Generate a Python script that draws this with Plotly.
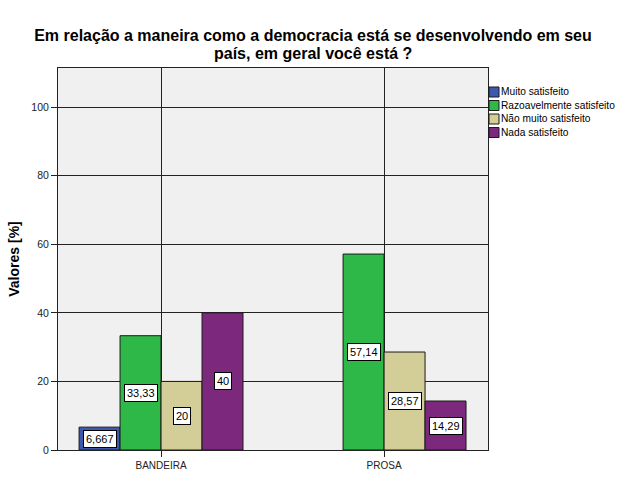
import plotly.graph_objects as go

categories = ["BANDEIRA", "PROSA"]
series_names = ["Muito satisfeito", "Razoavelmente satisfeito", "Não muito satisfeito", "Nada satisfeito"]
muito = [6.667, None]
razoavel = [33.33, 57.14]
nao_muito = [20, 28.57]
nada = [40, 14.29]
label_text = [["6,667", None], ["33,33", "57,14"], ["20", "28,57"], ["40", "14,29"]]
y_ticks = [0, 20, 40, 60, 80, 100]
title_lines = ["Em relação a maneira como a democracia está se desenvolvendo em seu",
               "país, em geral você está ?"]

series_values = [muito, razoavel, nao_muito, nada]
colors = ["#3E58AC", "#2EB848", "#D3CE97", "#7C287D"]

W, H = 626, 501
ML, MR, MT, MB = 58, 138, 68, 51
PW, PH = W - ML - MR, H - MT - MB


def px_x(px):
    return (px - ML) / PW


def px_y(py):
    return (H - MB - py) / PH


fig = go.Figure()
for name, vals, col in zip(series_names, series_values, colors):
    fig.add_trace(go.Bar(
        x=list(range(len(categories))), y=vals, name=name,
        marker=dict(color=col, line=dict(color="#1a1a1a", width=1)),
        hoverinfo="skip", showlegend=False,
    ))

bargap = 0.265
w = (1 - bargap) / 4
for si, (vals, texts) in enumerate(zip(series_values, label_text)):
    off = (si - 1.5) * w
    for ci, (v, t) in enumerate(zip(vals, texts)):
        if v is None or t is None:
            continue
        fig.add_annotation(
            x=ci + off, y=v / 2, xref="x", yref="y", text=t, showarrow=False,
            font=dict(family="Arial, Liberation Sans", size=11, color="#000"),
            bgcolor="white", bordercolor="black", borderwidth=1, borderpad=2,
        )

# manual legend
for i, (name, col) in enumerate(zip(series_names, colors)):
    yc = 92 + i * 13.5
    fig.add_shape(
        type="rect", xref="paper", yref="paper",
        x0=px_x(489), x1=px_x(499), y0=px_y(yc + 5), y1=px_y(yc - 5),
        fillcolor=col, line=dict(color="#1a1a1a", width=1),
    )
    fig.add_annotation(
        x=px_x(499), y=px_y(yc), xref="paper", yref="paper", text=name,
        showarrow=False, xanchor="left", yanchor="middle",
        font=dict(family="Arial, Liberation Sans", size=10.2, color="#000"),
    )

# second title line (tighter line spacing than plotly's default)
fig.add_annotation(
    x=px_x(W / 2), y=px_y(53.5), xref="paper", yref="paper",
    text="<b>" + title_lines[1] + "</b>", showarrow=False,
    xanchor="center", yanchor="middle",
    font=dict(family="Arial, Liberation Sans", size=16, color="#000"),
)

fig.update_layout(
    width=W, height=H,
    paper_bgcolor="white", plot_bgcolor="#F0F0F0",
    margin=dict(l=ML, r=MR, t=MT, b=MB, autoexpand=False),
    barmode="group", bargap=bargap, bargroupgap=0,
    title=dict(
        text="<b>" + title_lines[0] + "</b>",
        x=0.5, xref="container", xanchor="center", y=1 - 35 / H, yref="container", yanchor="middle",
        font=dict(family="Arial, Liberation Sans", size=16, color="#000"),
    ),
    font=dict(family="Arial, Liberation Sans", size=10, color="#222"),
    showlegend=False,
)
fig.update_xaxes(
    tickmode="array", tickvals=list(range(len(categories))), ticktext=categories,
    range=[-0.462, 1.466],
    showgrid=True, gridcolor="#222", gridwidth=1,
    showline=True, linecolor="#222", linewidth=1, mirror=True,
    ticks="outside", ticklen=6, tickcolor="#222",
    tickfont=dict(size=10, color="#222"), zeroline=False,
)
fig.update_yaxes(
    range=[0, 111.4], tickmode="array", tickvals=y_ticks,
    showgrid=True, gridcolor="#222", gridwidth=1,
    showline=True, linecolor="#222", linewidth=1, mirror=True,
    ticks="outside", ticklen=6, tickcolor="#222",
    tickfont=dict(size=10.5, color="#222"), zeroline=False,
    title=dict(text="<b>Valores [%]</b>", font=dict(size=14, color="#000"), standoff=8),
)

fig.write_html("out.html", config={"displayModeBar": False},
               post_script="document.body.style.margin='0';")
